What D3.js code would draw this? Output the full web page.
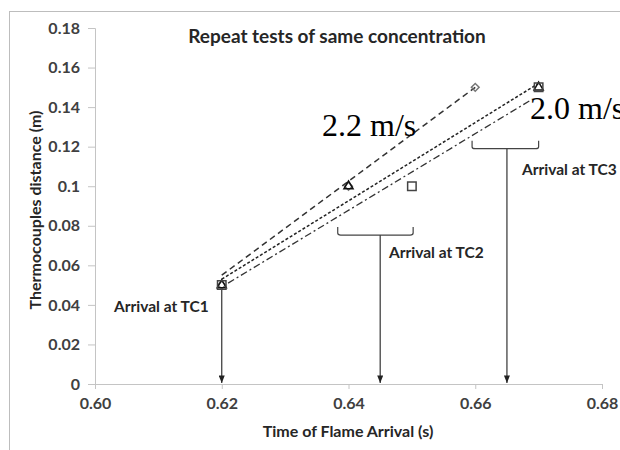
<!DOCTYPE html>
<html>
<head>
<meta charset="utf-8">
<script src="https://cdn.jsdelivr.net/npm/d3@7"></script>
<style>
  body { margin: 0; background: #fff; }
  svg { display: block; }
  .tick text { font-family: Lato, "Open Sans", sans-serif; font-weight: bold; fill: #404040; }
</style>
</head>
<body>
<svg></svg>
<script>
// values
var xTicks = [0.60, 0.62, 0.64, 0.66, 0.68];
var xTickLabels = ["0.60", "0.62", "0.64", "0.66", "0.68"];
var yTicks = [0, 0.02, 0.04, 0.06, 0.08, 0.1, 0.12, 0.14, 0.16, 0.18];
var yTickLabels = ["0", "0.02", "0.04", "0.06", "0.08", "0.1", "0.12", "0.14", "0.16", "0.18"];

var distances = [0.05, 0.10, 0.15];
var times1 = [0.62, 0.64, 0.66];
var times2 = [0.62, 0.64, 0.67];
var times3 = [0.62, 0.65, 0.67];

// trendline end points
var trend1T = [0.62, 0.66], trend1D = [0.055, 0.150];
var trend2T = [0.62, 0.67], trend2D = [0.053, 0.152];
var trend3T = [0.621, 0.669], trend3D = [0.051, 0.144];

var arrivalLabels = ["Arrival at TC1", "Arrival at TC2", "Arrival at TC3"];
var arrivalTimes = [0.62, 0.645, 0.665];
var arrivalFrom = [0.05, 0.0753, 0.119];
var bracketLo = [null, 0.6383, 0.6595];
var bracketHi = [null, 0.6502, 0.6700];

var speedLabels = ["2.2 m/s", "2.0 m/s"];

var width = 620;
var height = 450;

var svg = d3.select('svg')
    .attr('width', width)
    .attr('height', height);

// outer frame
svg.append('rect')
  .attr('x', 9.5).attr('y', 11.5)
  .attr('width', 700).attr('height', 500)
  .attr('fill', 'none')
  .attr('stroke', '#bdbdbd');

var x = d3.scaleLinear().domain([0.60, 0.68]).range([95, 602]);
var y = d3.scaleLinear().domain([0, 0.18]).range([384, 28]);

var defs = svg.append('defs');
defs.append('marker')
  .attr('id', 'head')
  .attr('viewBox', '0 0 10 8')
  .attr('refX', 10).attr('refY', 4)
  .attr('markerWidth', 8).attr('markerHeight', 6)
  .attr('markerUnits', 'userSpaceOnUse')
  .attr('orient', 'auto')
  .append('path')
  .attr('d', 'M0,0L10,4L0,8Z')
  .attr('fill', '#222');

// axes
var xAxis = svg.append('g')
  .attr('transform', 'translate(0,384)')
  .call(d3.axisBottom(x).tickValues(xTicks).tickSize(5).tickPadding(9)
        .tickFormat((d, i) => xTickLabels[i]));
var yAxis = svg.append('g')
  .attr('transform', 'translate(95,0)')
  .call(d3.axisLeft(y).tickValues(yTicks).tickSize(7).tickPadding(8)
        .tickFormat((d, i) => yTickLabels[i]));
[xAxis, yAxis].forEach(function(a){
  a.select('.domain').attr('stroke', '#c4c4c4');
  a.selectAll('.tick line').attr('stroke', '#c4c4c4');
  a.selectAll('.tick text').style('font-size', '16px');
});

// title + axis titles
svg.append('text')
  .attr('x', 337).attr('y', 43)
  .attr('text-anchor', 'middle')
  .style('font-family', 'Lato, sans-serif').style('font-weight', 'bold')
  .style('font-size', '19px').attr('fill', '#262626')
  .text('Repeat tests of same concentration');

svg.append('text')
  .attr('x', 348).attr('y', 437)
  .attr('text-anchor', 'middle')
  .style('font-family', 'Lato, sans-serif').style('font-weight', 'bold')
  .style('font-size', '16px').attr('fill', '#262626')
  .text('Time of Flame Arrival (s)');

svg.append('text')
  .attr('transform', 'translate(41,210) rotate(-90)')
  .attr('text-anchor', 'middle')
  .style('font-family', 'Lato, sans-serif').style('font-weight', 'bold')
  .style('font-size', '16px').attr('fill', '#262626')
  .text('Thermocouples distance (m)');

// trendlines
var line = d3.line().x(d => x(d[0])).y(d => y(d[1]));
var trends = [
  {t: trend1T, d: trend1D, dash: '6,4', w: 1.5, c: '#333'},
  {t: trend2T, d: trend2D, dash: '3,2', w: 1.5, c: '#222'},
  {t: trend3T, d: trend3D, dash: '7,3,2,3', w: 1.3, c: '#333'}
];
svg.selectAll('.trend')
  .data(trends)
  .enter()
  .append('path')
    .classed('trend', true)
    .attr('d', d => line(d.t.map((t, i) => [t, d.d[i]])))
    .attr('fill', 'none')
    .attr('stroke', d => d.c)
    .attr('stroke-width', d => d.w)
    .attr('stroke-dasharray', d => d.dash);

// markers
var series = [
  {times: times1, sym: d3.symbolSquare, size: 30, rot: 45, c: '#777'},
  {times: times2, sym: d3.symbolTriangle, size: 36, rot: 0, c: '#111'},
  {times: times3, sym: d3.symbolSquare, size: 72, rot: 0, c: '#444'}
];
series.forEach(function(s){
  svg.append('g').selectAll('path')
    .data(s.times.map((t, i) => [t, distances[i]]))
    .enter()
    .append('path')
      .attr('transform', d => 'translate(' + x(d[0]) + ',' + y(d[1]) + ') rotate(' + s.rot + ')')
      .attr('d', d3.symbol().type(s.sym).size(s.size))
      .attr('fill', 'none')
      .attr('stroke', s.c)
      .attr('stroke-width', 1.5);
});

// arrival arrows and brackets
arrivalTimes.forEach(function(t, i){
  var top = y(arrivalFrom[i]) + (i === 0 ? 5 : 0);
  svg.append('line')
    .attr('x1', x(t)).attr('x2', x(t))
    .attr('y1', top).attr('y2', 383)
    .attr('stroke', '#333').attr('stroke-width', 1.2)
    .attr('marker-end', 'url(#head)');
  if (bracketLo[i] !== null) {
    var by = y(arrivalFrom[i]);
    svg.append('path')
      .attr('d', 'M' + x(bracketLo[i]) + ',' + (by - 8) +
                 'L' + x(bracketLo[i]) + ',' + (by - 2) +
                 'Q' + x(bracketLo[i]) + ',' + by + ' ' + (x(bracketLo[i]) + 3) + ',' + by +
                 'L' + (x(bracketHi[i]) - 3) + ',' + by +
                 'Q' + x(bracketHi[i]) + ',' + by + ' ' + x(bracketHi[i]) + ',' + (by - 2) +
                 'L' + x(bracketHi[i]) + ',' + (by - 8))
      .attr('fill', 'none')
      .attr('stroke', '#444').attr('stroke-width', 1.2);
  }
});

var arrivalPos = [[114, 312], [389, 258], [522, 175]];
svg.selectAll('.arr-label')
  .data(arrivalLabels)
  .enter()
  .append('text')
    .classed('arr-label', true)
    .attr('x', (d, i) => arrivalPos[i][0])
    .attr('y', (d, i) => arrivalPos[i][1])
    .style('font-family', 'Lato, sans-serif').style('font-weight', 'bold')
    .style('font-size', '15.5px').attr('fill', '#262626')
    .text(d => d);

var speedPos = [[322, 136], [530, 119]];
svg.selectAll('.speed')
  .data(speedLabels)
  .enter()
  .append('text')
    .classed('speed', true)
    .attr('x', (d, i) => speedPos[i][0])
    .attr('y', (d, i) => speedPos[i][1])
    .style('font-family', '"Liberation Serif", "Times New Roman", serif')
    .style('font-size', '32px').attr('fill', '#000')
    .text(d => d);
</script>
</body>
</html>
